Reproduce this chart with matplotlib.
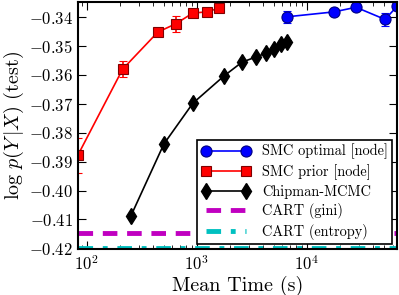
import numpy as np
import matplotlib
matplotlib.use("Agg")
import matplotlib.pyplot as plt

plt.rcParams["mathtext.fontset"] = "cm"
plt.rcParams["font.family"] = ["cmr10", "DejaVu Serif"]
plt.rcParams["axes.formatter.use_mathtext"] = True
plt.rcParams["axes.unicode_minus"] = True

# SMC optimal [node]
opt_time = [6580, 17600, 27900, 51200, 65800]
opt_ll = [-0.3399, -0.3382, -0.3366, -0.3408, -0.3363]
opt_err = [0.0020, 0.0010, 0.0010, 0.0022, 0.0010]

# SMC prior [node]
prior_time = [83, 212, 442, 645, 920, 1230, 1590]
prior_ll = [-0.3878, -0.3580, -0.3452, -0.3423, -0.3386, -0.3382, -0.3369]
prior_err = [0.0060, 0.0028, 0.0015, 0.0028, 0.0008, 0.0015, 0.0008]

# Chipman-MCMC
mcmc_time = [251, 502, 920, 1760, 2570, 3440, 4240, 5010, 5800, 6580]
mcmc_ll = [-0.4089, -0.3839, -0.3698, -0.3604, -0.3556, -0.3538,
           -0.3525, -0.3511, -0.3493, -0.3487]

cart_gini = -0.4145
cart_entropy = -0.4200

fig, ax = plt.subplots(figsize=(3.99, 2.95), dpi=100)

h_opt = ax.errorbar(opt_time, opt_ll, yerr=opt_err, color="#0000ff", marker="o",
                    ms=8, mec="#000080", mew=0.8, lw=1.2, capsize=3,
                    label="SMC optimal [node]")
h_prior = ax.errorbar(prior_time, prior_ll, yerr=prior_err, color="#ff0000",
                      marker="s", ms=7, mec="#800000", mew=0.8, lw=1.2,
                      capsize=3, label="SMC prior [node]")
h_mcmc, = ax.plot(mcmc_time, mcmc_ll, color="black", marker="d", ms=8, lw=1.2,
                  label="Chipman-MCMC")
h_gini = ax.axhline(cart_gini, color="#c000c0", ls=(0, (3, 2)), lw=3.5,
                    label="CART (gini)")
h_ent = ax.axhline(cart_entropy, color="#00c0c0", ls=(0, (3, 2, 1, 2)), lw=3.5,
                   label="CART (entropy)")

ax.set_xscale("log")
ax.set_xlim(prior_time[0], opt_time[-1])
ax.set_ylim(-0.4203, -0.3348)
ax.set_yticks(np.arange(-0.42, -0.335, 0.01))
ax.tick_params(which="both", direction="in", top=True, right=True)
ax.tick_params(which="major", length=6, labelsize=12)
ax.tick_params(which="minor", length=3)
for s in ax.spines.values():
    s.set_linewidth(1.5)

ax.set_xlabel("Mean Time (s)", fontsize=14.5, labelpad=2)
ax.set_ylabel(r"$\log\,p(Y\,|X)$ (test)", fontsize=14.5, labelpad=2)

handles = [h_opt[0], h_prior[0], h_mcmc, h_gini, h_ent]
labels = ["SMC optimal [node]", "SMC prior [node]", "Chipman-MCMC",
          "CART (gini)", "CART (entropy)"]
leg = ax.legend(handles, labels, loc="lower right", numpoints=2,
                fontsize=10.3, fancybox=False, framealpha=1, edgecolor="black",
                handlelength=3.4, borderpad=0.3, labelspacing=0.33,
                borderaxespad=0.35, handletextpad=0.8)
leg.get_frame().set_linewidth(1.2)

fig.subplots_adjust(left=0.195, right=0.995, top=0.993, bottom=0.155)
fig.savefig("out.png", dpi=100)
